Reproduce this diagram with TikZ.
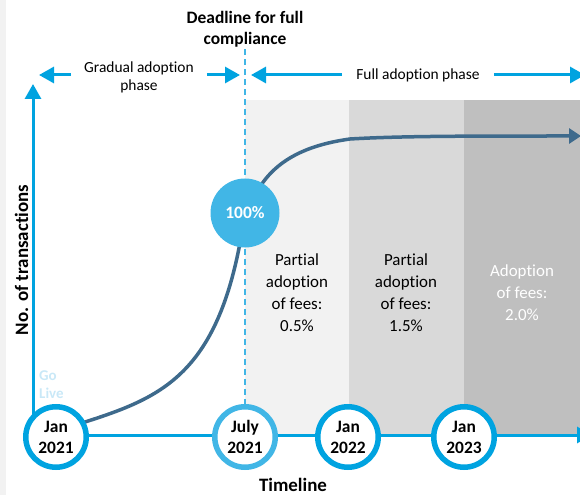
\documentclass[tikz,border=0pt]{standalone}
\usepackage{fontspec}
\setmainfont{Carlito}[Ligatures=NoCommon]
\usetikzlibrary{arrows.meta}

\definecolor{axisblue}{HTML}{00A3E0}
\definecolor{lightblue}{HTML}{41B6E6}
\definecolor{paleblue}{HTML}{C9E8F7}
\definecolor{curveblue}{HTML}{3E6A8C}
\definecolor{bandone}{HTML}{F2F2F2}
\definecolor{bandtwo}{HTML}{D9D9D9}
\definecolor{bandthree}{HTML}{BFBFBF}

\begin{document}
\begin{tikzpicture}[x=1bp,y=-1bp,
  axisline/.style={axisblue,line width=3bp,-{Triangle[length=15bp,width=16bp]}},
  phasearrow/.style={axisblue,line width=3bp,-{Triangle[length=15bp,width=16bp]}},
  growthline/.style={curveblue,line width=3.5bp,-{Triangle[length=12bp,width=15bp]}},
  datering/.style={circle,draw=axisblue,line width=5.5bp,fill=white,minimum size=60.5bp,
    inner sep=0pt,align=center,font=\bfseries\fontsize{17.5}{21}\selectfont},
  bandtext/.style={align=center,font=\fontsize{17}{22}\selectfont},
  phasetext/.style={align=center,font=\fontsize{15.5}{18}\selectfont,inner xsep=13bp}]
\useasboundingbox (0,0) rectangle (580,495);
\clip (0,0) rectangle (580,495);
\fill[bandone] (0,0) rectangle (6,495);

% fee bands
\fill[bandone] (245,100) rectangle (349,434);
\fill[bandtwo] (349,100) rectangle (464,434);
\fill[bandthree] (464,100) rectangle (580,434);
\node[bandtext] (feeone) at (297,293) {Partial\\adoption\\of fees:\\0.5\%};
\node[bandtext] (feetwo) at (406,293) {Partial\\adoption\\of fees:\\1.5\%};
\node[bandtext,text=white] (feethree) at (522,293) {Adoption\\of fees:\\2.0\%};

% phases
\node[phasetext] (gradual) at (139,77) {Gradual adoption\\phase};
\coordinate (gradL) at (39,75);
\coordinate (gradR) at (240,75);
\draw[phasearrow] (gradual.west |- gradL) -- (gradL);
\draw[phasearrow] (gradual.east |- gradR) -- (gradR);
\node[phasetext,inner xsep=14bp] (fullphase) at (418,75) {Full adoption phase};
\coordinate (fullL) at (251,75);
\coordinate (fullR) at (585,75);
\draw[phasearrow] (fullphase.west) -- (fullL);
\draw[phasearrow] (fullphase.east) -- (fullR);
\node[font=\bfseries\fontsize{17.5}{21}\selectfont,align=center,inner ysep=2bp] (deadline) at (245,29) {Deadline for full\\compliance};

% axes
\coordinate (origin) at (33,435);
\coordinate (ytip) at (33,84);
\coordinate (xtip) at (592,435);
\draw[axisline] (origin) -- (ytip);
\draw[axisline] (origin) -- (xtip);
\node[rotate=90,font=\bfseries\fontsize{19}{22}\selectfont] (ylabel) at (21.5,260) {No. of transactions};
\node[font=\bfseries\fontsize{19}{22}\selectfont] (timeline) at (293,485) {Timeline};
\node[font=\bfseries\fontsize{15}{19}\selectfont,text=paleblue,align=left,anchor=north west,inner sep=0pt] (golive) at (39,370) {Go\\Live};

% growth curve
\draw[growthline] (70,427) -- (85,422) .. controls (160,398) and (215,375) .. (240,243)
  .. controls (250,190) and (270,150) .. (350,139)
  .. controls (400,136) and (470,136) .. (581,136);

% dates
\node[datering] (janone) at (56,437) {Jan\\2021};
\node[datering,draw=lightblue] (july) at (245,437) {July\\2021};
\node[datering] (jantwo) at (348,437) {Jan\\2022};
\node[datering] (janthree) at (464,437) {Jan\\2023};
\draw[lightblue,line width=2bp,dash pattern=on 6bp off 4bp] (deadline.south) -- (july.north);
\node[circle,fill=lightblue,minimum size=69bp,inner sep=0pt,text=white,font=\bfseries\fontsize{17.5}{21}\selectfont] (full) at (245,213) {100\%};
\end{tikzpicture}
\end{document}
